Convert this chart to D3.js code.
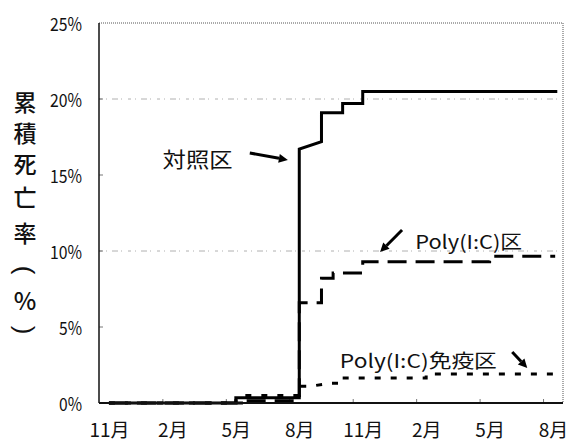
<!DOCTYPE html>
<html><head><meta charset="utf-8">
<script src="https://cdn.jsdelivr.net/npm/d3@7"></script>
<style>
html,body{margin:0;padding:0;background:#fff;}
svg{display:block;}
</style></head>
<body>
<script>
// ---- data ----
const xTickMonths = [0, 3, 6, 9, 12, 15, 18, 21];
const xTickLabels = ["11月", "2月", "5月", "8月", "11月", "2月", "5月", "8月"];
const yTicks = [0, 5, 10, 15, 20, 25];
const yTitleChars = ["累", "積", "死", "亡", "率", "(", "%", ")"];

// 対照区 (control)
const controlMonth = [0, 6, 6, 9, 9, 10.05, 10.05, 11.05, 11.05, 12, 12, 21.2];
const controlRate  = [0, 0, 0.35, 0.35, 16.7, 17.2, 19.1, 19.1, 19.7, 19.7, 20.5, 20.5];
// Poly(I:C)区
const polyMonth = [0, 6, 6, 9, 9, 10.05, 10.05, 10.6, 10.6, 12, 12, 18, 18, 21.1];
const polyRate  = [0, 0, 0.15, 0.15, 6.6, 6.6, 8.2, 8.2, 8.55, 8.55, 9.3, 9.3, 9.65, 9.65];
// Poly(I:C)免疫区
const immuneMonth = [0, 6.4, 6.4, 9, 9, 9.5, 10.5, 11.05, 11.05, 15, 15, 21.2];
const immuneRate  = [0, 0, 0.5, 0.5, 1.1, 1.1, 1.3, 1.3, 1.65, 1.65, 1.9, 1.9];

// annotations (data space)
const annoLabels = ["対照区", "Poly(I:C)区", "Poly(I:C)免疫区"];
const annoTextMonth = [4.19, 14.48, 10.92];
const annoTextRate  = [16.1, 10.72, 2.89];
const arrowFromMonth = [6.66, 13.86, 19.07];
const arrowFromRate  = [16.45, 11.38, 3.36];
const arrowToMonth   = [8.46, 12.82, 19.78];
const arrowToRate    = [15.99, 9.93, 2.30];

// ---- layout ----
const W = 569, H = 446;
const plot = {left: 99, right: 563, top: 23, bottom: 403};
const svg = d3.select("body").append("svg").attr("width", W).attr("height", H);

const x = d3.scaleLinear().domain([-0.47, 21.47]).range([plot.left, plot.right]);
const y = d3.scaleLinear().domain([0, 25]).range([plot.bottom, plot.top]);

const CJK = "'Noto Sans CJK JP', 'Noto Sans', sans-serif";

// gridlines
svg.append("g").selectAll("line").data([10, 20]).join("line")
  .attr("x1", plot.left).attr("x2", plot.right)
  .attr("y1", d => y(d)).attr("y2", d => y(d))
  .attr("stroke", "#b0b0b0").attr("stroke-width", 1)
  .attr("stroke-dasharray", "3,4,1,5,6,3,1,6");

// top & right border (dotted)
svg.append("line").attr("x1", plot.left).attr("x2", plot.right)
  .attr("y1", y(25)).attr("y2", y(25))
  .attr("stroke", "#555").attr("stroke-width", 1).attr("stroke-dasharray", "1,1");
svg.append("line").attr("x1", plot.right).attr("x2", plot.right)
  .attr("y1", y(25)).attr("y2", y(0))
  .attr("stroke", "#555").attr("stroke-width", 1).attr("stroke-dasharray", "1,1");

// small inner ticks
svg.append("g").selectAll("line").data(xTickMonths.slice(1)).join("line")
  .attr("x1", d => x(d - 0.45)).attr("x2", d => x(d - 0.45))
  .attr("y1", y(0)).attr("y2", y(0) - 4)
  .attr("stroke", "#777").attr("stroke-width", 1);
svg.append("g").selectAll("line").data(yTicks.slice(1, 5)).join("line")
  .attr("x1", plot.left).attr("x2", plot.left + 4)
  .attr("y1", d => y(d)).attr("y2", d => y(d))
  .attr("stroke", "#777").attr("stroke-width", 1);

// series
const line = d3.line().x(d => x(d[0])).y(d => y(d[1]));
const zip = (a, b) => a.map((v, i) => [v, b[i]]);

svg.append("path").datum(zip(immuneMonth, immuneRate))
  .attr("d", line).attr("fill", "none").attr("stroke", "#000")
  .attr("stroke-width", 3).attr("stroke-dasharray", "6,10");
svg.append("path").datum(zip(polyMonth, polyRate))
  .attr("d", line).attr("fill", "none").attr("stroke", "#000")
  .attr("stroke-width", 3).attr("stroke-dasharray", "19,9");
svg.append("path").datum(zip(controlMonth, controlRate))
  .attr("d", line).attr("fill", "none").attr("stroke", "#000")
  .attr("stroke-width", 3).attr("stroke-linejoin", "miter");

// axis lines
svg.append("line").attr("x1", plot.left).attr("x2", plot.left)
  .attr("y1", y(25)).attr("y2", y(0)).attr("stroke", "#111").attr("stroke-width", 1.5);
svg.append("line").attr("x1", plot.left).attr("x2", plot.right)
  .attr("y1", y(0)).attr("y2", y(0)).attr("stroke", "#111").attr("stroke-width", 2);

// y axis labels
const yAxis = svg.append("g").attr("transform", `translate(${plot.left},2)`)
  .call(d3.axisLeft(y).tickValues(yTicks).tickFormat(d => d + "%").tickSize(0).tickPadding(17));
yAxis.select(".domain").remove();
yAxis.selectAll("text").attr("font-family", CJK).attr("font-size", 18).attr("fill", "#111")
  .attr("textLength", d => d >= 10 ? 32 : 23).attr("lengthAdjust", "spacingAndGlyphs");

// x axis labels
const xAxis = svg.append("g").attr("transform", `translate(0,${plot.bottom})`)
  .call(d3.axisBottom(x).tickValues(xTickMonths).tickFormat((d, i) => xTickLabels[i]).tickSize(0).tickPadding(21));
xAxis.select(".domain").remove();
xAxis.selectAll("text").attr("font-family", CJK).attr("font-size", 19).attr("fill", "#111");

// y title (vertical stacked; parentheses rotated as in vertical writing)
const yTitleY = [101, 132, 163, 196, 232, 270, 299, 330];
const yTitleRot = [0, 0, 0, 0, 0, 90, 0, 90];
const yTitleSize = [23, 23, 23, 23, 23, 26, 24, 26];
svg.append("g").selectAll("text").data(yTitleChars).join("text")
  .attr("transform", (d, i) => `translate(25,${yTitleY[i]}) rotate(${yTitleRot[i]})`)
  .attr("text-anchor", "middle").attr("dominant-baseline", "central")
  .attr("font-family", (d, i) => yTitleRot[i] ? "'Liberation Sans', sans-serif" : CJK)
  .attr("font-size", (d, i) => yTitleSize[i])
  .attr("font-weight", (d, i) => yTitleRot[i] ? 400 : 500).attr("fill", "#111")
  .text(d => d);

// annotations
const annoAnchor = ["middle", "start", "start"];
const annoSize = [21, 19, 19];
const annoLen = [70, 107, 157];
svg.append("g").selectAll("text").data(annoLabels).join("text")
  .attr("x", (d, i) => x(annoTextMonth[i]))
  .attr("y", (d, i) => y(annoTextRate[i]))
  .attr("text-anchor", (d, i) => annoAnchor[i])
  .attr("dominant-baseline", "central")
  .attr("font-family", CJK).attr("font-size", (d, i) => annoSize[i]).attr("fill", "#111")
  .attr("textLength", (d, i) => annoLen[i]).attr("lengthAdjust", "spacingAndGlyphs")
  .text(d => d);

// arrows
annoLabels.forEach((d, i) => {
  const x1 = x(arrowFromMonth[i]), y1 = y(arrowFromRate[i]);
  const x2 = x(arrowToMonth[i]), y2 = y(arrowToRate[i]);
  const ang = Math.atan2(y2 - y1, x2 - x1);
  const hl = 9, hw = 4.5;
  const bx = x2 - hl * Math.cos(ang), by = y2 - hl * Math.sin(ang);
  svg.append("line").attr("x1", x1).attr("y1", y1).attr("x2", bx).attr("y2", by)
    .attr("stroke", "#000").attr("stroke-width", 3);
  const px = -Math.sin(ang), py = Math.cos(ang);
  svg.append("path")
    .attr("d", `M${x2},${y2}L${bx + px * hw},${by + py * hw}L${bx - px * hw},${by - py * hw}Z`)
    .attr("fill", "#000");
});
</script>
</body></html>
